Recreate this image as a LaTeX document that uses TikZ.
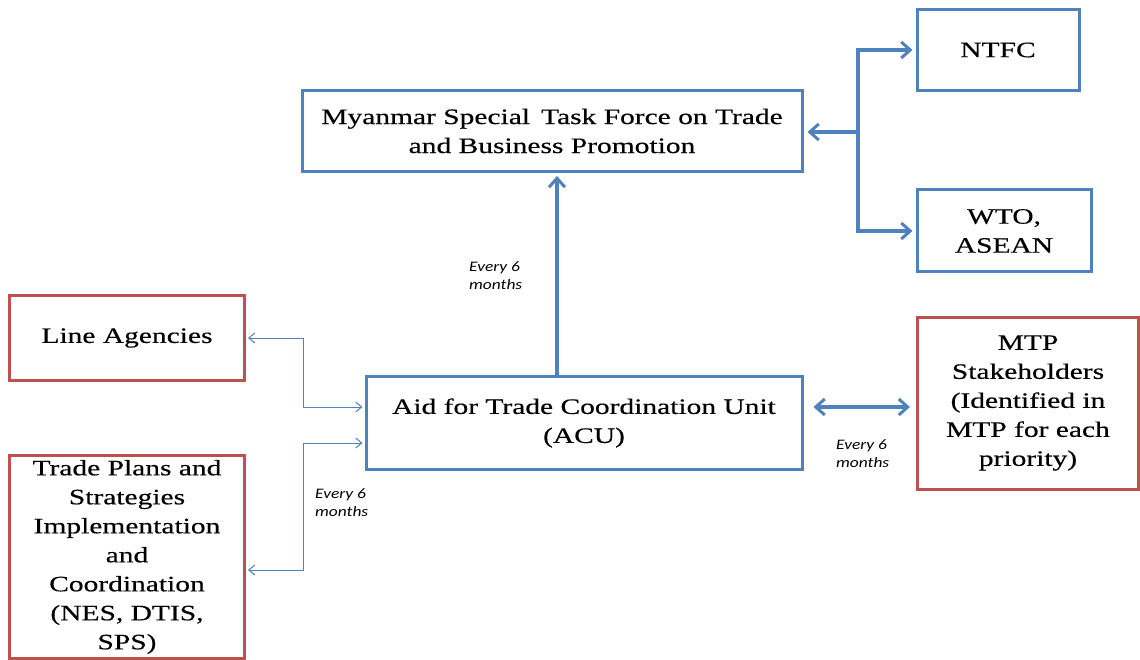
\documentclass[tikz,border=0pt]{standalone}
\usepackage{fontspec}
\setmainfont{Liberation Serif}[FakeStretch=1.34,FakeBold=0.4]
\newfontfamily\notefont{Carlito}[FakeStretch=1.2]
\usetikzlibrary{arrows.meta,positioning}
\definecolor{ACUblue}{HTML}{4F81BD}
\definecolor{ACUred}{HTML}{C0504D}

\begin{document}
\begin{tikzpicture}[x=1pt,y=-1pt,
    box/.style={draw=ACUblue,line width=3pt,align=center,inner sep=0pt,
                font=\fontsize{22}{29}\selectfont},
    redbox/.style={box,draw=ACUred},
    main link/.style={ACUblue,line width=4pt,-{Straight Barb[length=9pt,width=16pt,line width=3pt]}},
    thin link/.style={ACUblue,line width=1pt,{Straight Barb[length=6pt,width=10pt]}-{Straight Barb[length=6pt,width=10pt]}},
    note/.style={anchor=west,align=left,inner sep=0pt,
                 font=\notefont\itshape\fontsize{14.5}{18}\selectfont}]
  \useasboundingbox (0,0) rectangle (1140,660);
  % boxes
  \node[box,minimum width=500,minimum height=81] (task) at (552,131)
       {Myanmar Special\, Task Force on Trade\\and Business Promotion};
  \node[box,minimum width=162,minimum height=81] (ntfc) at (998,50) {NTFC};
  \node[box,minimum width=174,minimum height=82] (wto) at (1004,231) {WTO,\\ASEAN};
  \node[box,minimum width=436,minimum height=93] (acu) at (584,423)
       {Aid for Trade Coordination Unit\\(ACU)};
  \node[redbox,minimum width=235,minimum height=85] (la) at (127,338) {Line Agencies};
  \node[redbox,minimum width=235,minimum height=203] (tp) at (127,557)
       {Trade Plans and\\Strategies\\Implementation\\and\\Coordination\\(NES, DTIS,\\SPS)};
  \node[redbox,minimum width=221,minimum height=172] (mtp) at (1028,403)
       {MTP\\Stakeholders\\(Identified in\\MTP for each\\priority)};
  % connectors
  \coordinate (br) at (858,132);
  \draw[main link] (acu.north -| 557,0) -- ([yshift=-3pt]task.south -| 557,0);
  \draw[main link] (br) -- ([xshift=4pt]task.east |- br);
  \draw[main link] (br) |- ([xshift=-3pt]ntfc.west);
  \draw[main link] (br) |- ([xshift=-3pt]wto.west);
  \draw[ACUblue,line width=4pt,{Straight Barb[length=9pt,width=16pt,line width=3pt]}-{Straight Barb[length=9pt,width=16pt,line width=3pt]}]
       ([xshift=10pt,yshift=16pt]acu.east) -- ([xshift=-6pt,yshift=-4pt]mtp.west);
  \draw[thin link] ([xshift=2pt]la.east) -- ++(55,0) |- ([xshift=-2pt,yshift=16pt]acu.west);
  \draw[thin link] ([xshift=2pt,yshift=-13pt]tp.east) -- ++(55,0) |- ([xshift=-2pt,yshift=-20pt]acu.west);
  % labels
  \node[note] (n1) at (469,276) {Every 6\\months};
  \node[note] (n2) at (315,503) {Every 6\\months};
  \node[note] (n3) at (836,454) {Every 6\\months};
\end{tikzpicture}
\end{document}
